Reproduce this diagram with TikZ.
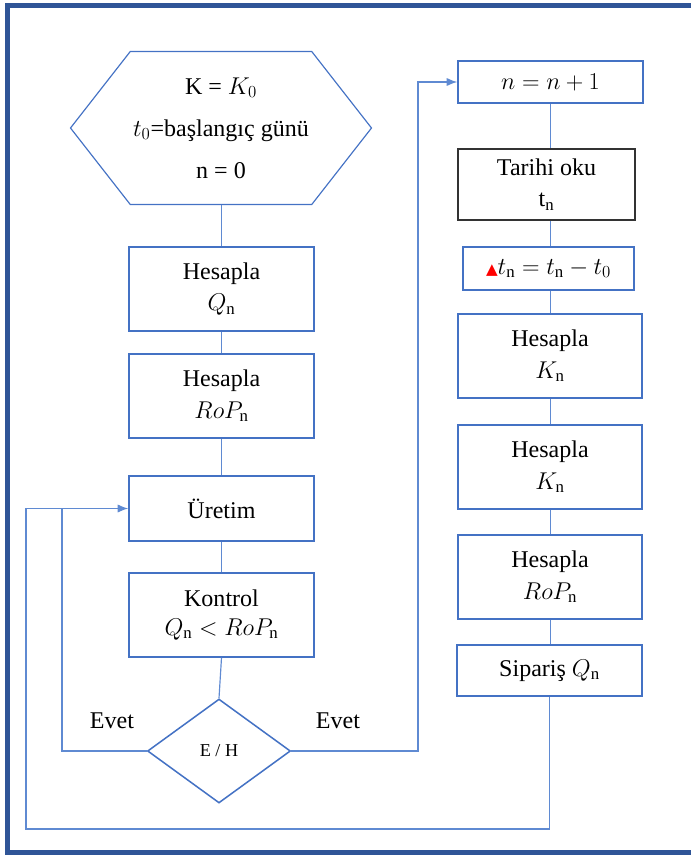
\documentclass[tikz,border=0pt]{standalone}
\usepackage{fontspec}
\setmainfont{Liberation Serif}
\newfontfamily\isaretfont{DejaVu Sans}
\usetikzlibrary{shapes.geometric, shapes.symbols}
\usetikzlibrary{arrows.meta}

\definecolor{kutumavi}{HTML}{4472C4}
\definecolor{hatmavi}{HTML}{5F8AD2}
\definecolor{cercevemavi}{HTML}{2F5597}

\tikzset{
  kutu/.style 2 args={draw=kutumavi, line width=1.3pt, rectangle, align=center, inner sep=0pt,
    minimum width=#1*0.03cm, minimum height=#2*0.03cm},
  hat/.style={draw=hatmavi, line width=1pt},
  ok/.style={hat, -{Latex[length=9pt,width=7pt]}},
}

\begin{document}
\begin{tikzpicture}[x=0.03cm,y=-0.03cm,font=\fontsize{20.5}{27}\selectfont]
  \useasboundingbox (0,0) rectangle (691,856);
  \clip (0,0) rectangle (691,856);
  \draw[cercevemavi, line width=0.15cm] (7,5.5) rectangle (700,852.5); % dis cerceve

  % sol sutun
  \node[draw=kutumavi, line width=1pt, shape=signal, signal to=west and east, signal pointer angle=104,
    minimum width=301*0.03cm, minimum height=153*0.03cm, inner sep=0pt, align=center,
    font=\fontsize{20.5}{24}\selectfont] (bas) at (221,128)
    {K = $K_0$\\[12pt]$t_0$=başlangıç günü\\[12pt]n = 0};
  \node[kutu={185}{84}] (hq) at (221.5,289) {Hesapla\\$Q_{\mathrm{n}}$};
  \node[kutu={185}{84}] (hrop) at (221.5,396) {Hesapla\\$RoP_{\mathrm{n}}$};
  \node[kutu={185}{65}] (uretim) at (221.5,508.5) {Üretim};
  \node[kutu={185}{84}, font=\fontsize{20.5}{24}\selectfont] (kontrol) at (221.5,615)
    {Kontrol\\$Q_{\mathrm{n}} < RoP_{\mathrm{n}}$};
  \node[draw=kutumavi, line width=1.3pt, diamond, minimum width=143*0.03cm, minimum height=104*0.03cm,
    inner sep=0pt, font=\fontsize{15.5}{18}\selectfont] (karar) at (219,751) {E / H};

  % sag sutun
  \node[kutu={185}{42}] (nbox) at (550.5,82) {$n = n + 1$};
  \node[kutu={177}{71}, draw=black!80] (tarih) at (546.5,184.5) {Tarihi oku\\$\mathrm{t}_{\mathrm{n}}$};
  \node[kutu={171}{43}] (dt) at (548.5,268.5)
    {{\color{red}\isaretfont\fontsize{13}{13}\selectfont ▲}$t_{\mathrm{n}} = t_{\mathrm{n}} - t_0$};
  \node[kutu={184}{84}] (hk1) at (550,356) {Hesapla\\$K_{\mathrm{n}}$};
  \node[kutu={184}{84}] (hk2) at (550,467) {Hesapla\\$K_{\mathrm{n}}$};
  \node[kutu={184}{84}] (hrop2) at (550,577) {Hesapla\\$RoP_{\mathrm{n}}$};
  \node[kutu={185}{51}] (siparis) at (549.5,670.5) {Sipariş $Q_{\mathrm{n}}$};

  \node (evet1) at (112,721) {Evet};
  \node (evet2) at (338,721) {Evet};

  % baglantilar
  \foreach \a/\b in {bas/hq, hq/hrop, hrop/uretim, uretim/kontrol} {
    \draw[hat] (hq.south |- \a.south) -- (hq.south |- \b.north);
  }
  \draw[hat] (kontrol.south) -- (karar.north);
  \foreach \a/\b in {nbox/tarih, tarih/dt, dt/hk1, hk1/hk2, hk2/hrop2, hrop2/siparis} {
    \draw[hat] (nbox.south |- \a.south) -- (nbox.south |- \b.north);
  }

  \coordinate (sol) at (62,508.5); % ic dongu
  \coordinate (dis) at (26,829);   % dis dongu
  \coordinate (sag) at (418,751);
  \draw[ok] (karar.west) -| (sol) -- (uretim.west);
  \draw[hat] (siparis.south) |- (dis) |- (sol);
  \draw[ok] (karar.east) -- (sag) |- (nbox.west);
\end{tikzpicture}
\end{document}
